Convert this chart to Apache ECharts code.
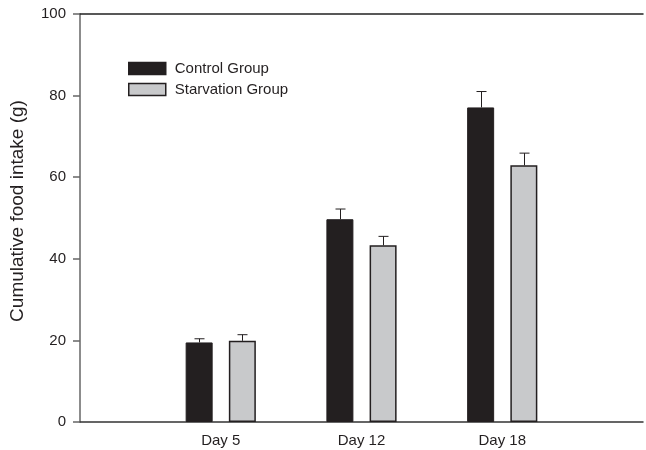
<!DOCTYPE html>
<html>
<head>
<meta charset="utf-8">
<script src="https://cdn.jsdelivr.net/npm/echarts@6/dist/echarts.min.js"></script>
<style>html,body{margin:0;padding:0;background:#fff}#c{width:646px;height:450px}</style>
</head>
<body>
<div id="c"></div>
<script>
var categories = ['Day 5', 'Day 12', 'Day 18'];
var controlValues = [19.5, 49.7, 77.1];
var controlErrors = [0.9, 2.5, 3.9];
var starvationValues = [19.9, 43.3, 62.9];
var starvationErrors = [1.5, 2.2, 3.0];
var seriesNames = ['Control Group', 'Starvation Group'];
var yTicks = [0, 20, 40, 60, 80, 100];

var FONT = "'Liberation Sans', Arial, sans-serif";
var BAR_W = 27, BAR_GAP = 0.6;
var axisCats = [''].concat(categories, ['']);
function pad(a){ return [null].concat(a, [null]); }
function errData(vals, errs){ return vals.map(function(v,i){ return [i+1, v, errs[i]]; }); }
function errSeries(vals, errs, idx){
  var off = (idx - 0.5) * BAR_W * (1 + BAR_GAP);
  return {
    type: 'custom', xAxisIndex: 0, yAxisIndex: 0, z: 5,
    data: errData(vals, errs),
    renderItem: function(params, api){
      var x = api.value(0), v = api.value(1), e = api.value(2);
      var b = api.coord([x, v]), t = api.coord([x, v + e]);
      var cx = Math.round(b[0] + off) + 0.5;
      return {type:'group', children:[
        {type:'line', shape:{x1:cx, y1:b[1], x2:cx, y2:t[1]}, style:{stroke:'#231f20', lineWidth:1}},
        {type:'line', shape:{x1:cx-5, y1:t[1], x2:cx+5, y2:t[1]}, style:{stroke:'#231f20', lineWidth:1}}
      ]};
    }
  };
}

var chart = echarts.init(document.getElementById('c'), null, {renderer:'canvas'});
chart.setOption({
  animation: false,
  backgroundColor: '#fff',
  textStyle: {fontFamily: FONT},
  grid: {left: 80, right: -4, top: 14, bottom: 28, containLabel: false},
  legend: {
    orient: 'vertical', left: 128, top: 61, padding: 0, itemWidth: 37, itemHeight: 12, itemGap: 6,
    icon: 'rect',
    data: seriesNames,
    textStyle: {fontFamily: FONT, fontSize: 15, color: '#231f20', padding: [0,0,0,4]},
    itemStyle: {borderWidth: 1.5, borderColor: '#231f20'}
  },
  xAxis: [{
    type: 'category', data: axisCats, boundaryGap: false, position: 'bottom',
    axisLine: {lineStyle: {color: '#333', width: 1.5}},
    axisTick: {show: false},
    axisLabel: {fontFamily: FONT, fontSize: 15, color: '#231f20', margin: 11, interval: 0},
    splitLine: {show: false}
  }, {
    type: 'category', data: axisCats, boundaryGap: false, position: 'top',
    axisLine: {lineStyle: {color: '#222', width: 1.5}},
    axisTick: {show: false}, axisLabel: {show: false}, splitLine: {show: false}
  }],
  yAxis: {
    type: 'value', min: yTicks[0], max: yTicks[yTicks.length-1], interval: 20,
    name: 'Cumulative food intake (g)', nameLocation: 'middle', nameGap: 53,
    nameTextStyle: {fontFamily: FONT, fontSize: 19, color: '#231f20', padding: [0,0,0,14]},
    axisLine: {show: true, lineStyle: {color: '#666', width: 1.5}},
    axisTick: {show: true, length: 7, lineStyle: {color: '#666', width: 1.5}},
    axisLabel: {fontFamily: FONT, fontSize: 15, color: '#231f20', margin: 14},
    splitLine: {show: false}
  },
  series: [{
    name: seriesNames[0], type: 'bar', data: pad(controlValues), barWidth: BAR_W, barGap: (BAR_GAP*100)+'%',
    itemStyle: {color: '#231f20', borderColor: '#231f20', borderWidth: 1}
  }, {
    name: seriesNames[1], type: 'bar', data: pad(starvationValues), barWidth: BAR_W, barGap: (BAR_GAP*100)+'%',
    itemStyle: {color: '#c8c9cb', borderColor: '#231f20', borderWidth: 1.5}
  },
  errSeries(controlValues, controlErrors, 0),
  errSeries(starvationValues, starvationErrors, 1)
  ]
});
</script>
</body>
</html>
